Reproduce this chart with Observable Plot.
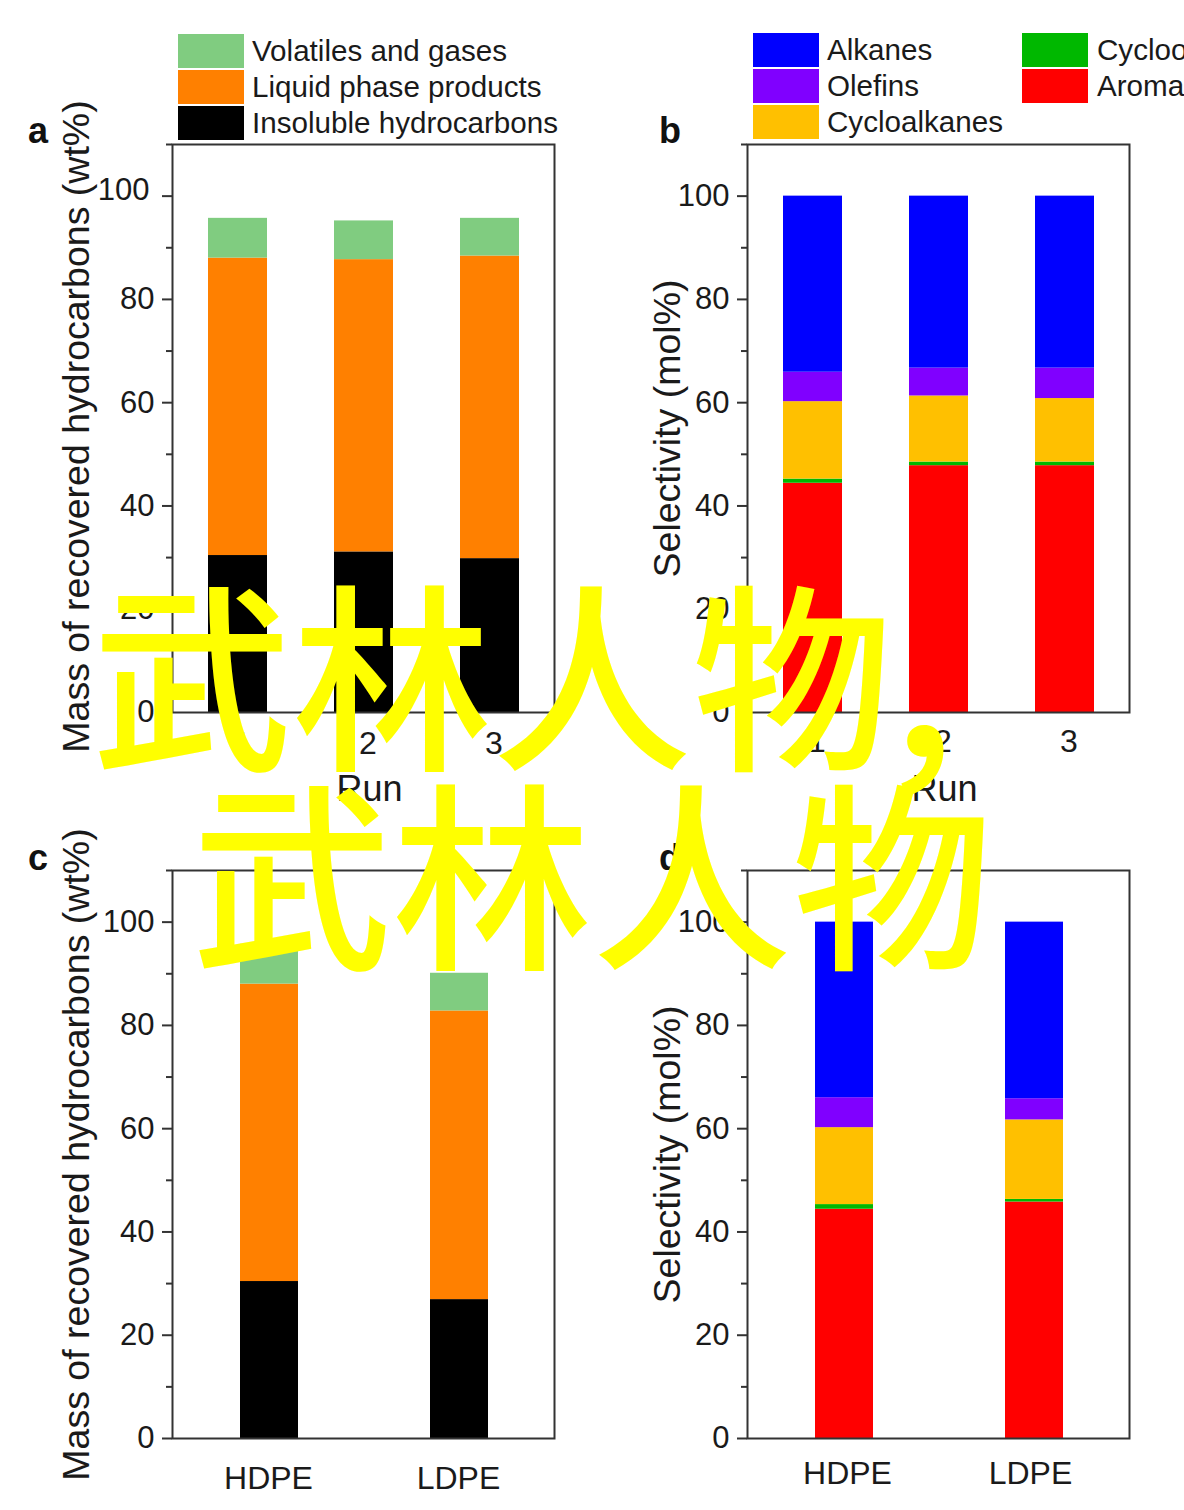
<!DOCTYPE html>
<html>
<head>
<meta charset="utf-8">
<script src="https://cdn.jsdelivr.net/npm/d3@7"></script>
<script src="https://cdn.jsdelivr.net/npm/@observablehq/plot@0.6"></script>
<style>
html,body{margin:0;padding:0;background:#fff}
#page{position:relative;width:1184px;height:1510px;overflow:hidden;font-family:"Liberation Sans",Arial,sans-serif;color:#1a1a1a}
.panel{position:absolute}
.panel svg{display:block;background:transparent}
.sw{position:absolute;width:66px;height:34px}
.lg{position:absolute;font-size:29.6px;line-height:34px;white-space:nowrap}
.letter{position:absolute;font-size:36px;font-weight:bold;line-height:36px;color:#111}
#wm{position:absolute;left:0;width:1184px;text-align:center;color:#ffff00;font-family:"Noto Sans CJK SC";font-size:200px;line-height:199px;top:569px;font-weight:500;white-space:pre}
#wm span{position:relative;left:-20px;top:17px}
</style>
</head>
<body>
<div id="page"></div>
<script>
// Categories
const runs = ["1", "2", "3"];
const plastics = ["HDPE", "LDPE"];

// Mass balance series (wt%), bottom to top
const massSeries = ["Insoluble hydrocarbons", "Liquid phase products", "Volatiles and gases"];
const massColors = ["#000000", "#ff8000", "#80cc80"];
const insolubleRuns = [30.4, 31.1, 29.8];
const liquidRuns = [57.6, 56.6, 58.6];
const volatilesRuns = [7.7, 7.5, 7.3];
const insolublePlastics = [30.4, 26.9];
const liquidPlastics = [57.6, 55.9];
const volatilesPlastics = [7.7, 7.3];

// Selectivity series (mol%), bottom to top
const selSeries = ["Aromatics", "Cycloolefins", "Cycloalkanes", "Olefins", "Alkanes"];
const selColors = ["#ff0000", "#00b800", "#ffc000", "#8000ff", "#0000ff"];
const aromaticsRuns = [44.4, 47.8, 47.8];
const cycloolefinsRuns = [0.8, 0.7, 0.7];
const cycloalkanesRuns = [15.0, 12.8, 12.3];
const olefinsRuns = [5.7, 5.4, 5.9];
const alkanesRuns = [34.1, 33.3, 33.3];
const aromaticsPlastics = [44.4, 45.8];
const cycloolefinsPlastics = [0.9, 0.5];
const cycloalkanesPlastics = [14.9, 15.4];
const olefinsPlastics = [5.8, 4.1];
const alkanesPlastics = [34.0, 34.2];

const majorTicks = [0, 20, 40, 60, 80, 100];
const minorTicks = [10, 30, 50, 70, 90, 110];
const massLabel = "Mass of recovered hydrocarbons (wt%)";
const selLabel = "Selectivity (mol%)";

function tidy(cats, names, columns) {
  return names.flatMap((s, i) => cats.map((c, j) => ({cat: c, series: s, value: columns[i][j]})));
}

const page = document.getElementById("page");

function panel(o) {
  const ml = 120, mr = 12, mt = 10, mb = 100;
  const fw = 382, fh = 568;
  const yAxisStyle = {fontSize: 31, label: null, fill: "#1a1a1a", tickFormat: d => d};
  const labelled = o.raise100 ? majorTicks.filter(t => t !== 100) : majorTicks;
  const chart = Plot.plot({
    width: ml + fw + mr, height: mt + fh + mb,
    marginLeft: ml, marginRight: mr, marginTop: mt, marginBottom: mb,
    style: {fontFamily: '"Liberation Sans", Arial, sans-serif', background: "transparent", color: "#1a1a1a", overflow: "visible"},
    x: {domain: o.cats, paddingInner: o.pi, paddingOuter: o.po, align: 0.51, label: null},
    y: {domain: [0, 110], label: null},
    color: {domain: o.names, range: o.colors},
    marks: [
      Plot.barY(o.data, {x: "cat", y: "value", fill: "series", order: null}),
      Plot.frame({stroke: "#333", strokeWidth: 2}),
      Plot.axisY({...yAxisStyle, ticks: labelled, tickSize: 10, tickPadding: 8, stroke: "#333", strokeWidth: 2}),
      o.raise100 ? Plot.axisY({...yAxisStyle, ticks: [100], tickSize: 10, tickPadding: 8, stroke: "#333", strokeWidth: 2, text: null}) : null,
      o.raise100 ? Plot.axisY({...yAxisStyle, ticks: [100], tickSize: 0, tickPadding: 23, dy: -6}) : null,
      Plot.axisY({ticks: minorTicks, tickSize: 6, text: null, label: null, stroke: "#333", strokeWidth: 2}),
      ...o.cats.map((c, i) => Plot.axisX({ticks: [c], tickSize: 0, tickPadding: o.xPad, fontSize: 32, label: null, fill: "#1a1a1a", dx: o.xDx[i]})),
      Plot.text([o.yLabel], {text: d => d, frameAnchor: "left", textAnchor: "middle", rotate: -90, dx: o.yDx, dy: o.yLabelDy || 0, fontSize: o.yFont, fill: "#1a1a1a"}),
      o.xLabel ? Plot.text([o.xLabel], {text: d => d, frameAnchor: "bottom", dy: 88, fontSize: 36, fill: "#1a1a1a", dx: o.xLabelDx || 0}) : null
    ]
  });
  const d = document.createElement("div");
  d.className = "panel";
  d.style.left = (o.x - ml) + "px";
  d.style.top = (o.y - mt) + "px";
  d.appendChild(chart);
  page.appendChild(d);
}

panel({x: 172, y: 144, cats: runs, pi: 0.533, po: 0.277, names: massSeries, colors: massColors, raise100: true,
  data: tidy(runs, massSeries, [insolubleRuns, liquidRuns, volatilesRuns]),
  yLabel: massLabel, yDx: -96, yFont: 37.5, yLabelDy: -2, xPad: 19, xDx: [4, 4, 4], xLabel: "Run", xLabelDx: 6});
panel({x: 747, y: 144, cats: runs, pi: 0.533, po: 0.277, names: selSeries, colors: selColors,
  data: tidy(runs, selSeries, [aromaticsRuns, cycloolefinsRuns, cycloalkanesRuns, olefinsRuns, alkanesRuns]),
  yLabel: selLabel, yDx: -80, yFont: 37.5, yLabelDy: 0, xPad: 17, xDx: [4, 4, 4], xLabel: "Run", xLabelDx: 6});
panel({x: 172, y: 870, cats: plastics, pi: 0.695, po: 0.352, names: massSeries, colors: massColors,
  data: tidy(plastics, massSeries, [insolublePlastics, liquidPlastics, volatilesPlastics]),
  yLabel: massLabel, yDx: -96, yFont: 37.5, yLabelDy: 0, xPad: 28, xDx: [-1, -1]});
panel({x: 747, y: 870, cats: plastics, pi: 0.695, po: 0.352, names: selSeries, colors: selColors,
  data: tidy(plastics, selSeries, [aromaticsPlastics, cycloolefinsPlastics, cycloalkanesPlastics, olefinsPlastics, alkanesPlastics]),
  yLabel: selLabel, yDx: -80, yFont: 37.5, yLabelDy: 0, xPad: 23, xDx: [3, -4]});

// Legends
const legendA = [["Volatiles and gases", "#80cc80", 34], ["Liquid phase products", "#ff8000", 70], ["Insoluble hydrocarbons", "#000000", 106]];
const legendB = [["Alkanes", "#0000ff", 33, 753, 74], ["Olefins", "#8000ff", 69, 753, 74], ["Cycloalkanes", "#ffc000", 105, 753, 74],
                 ["Cycloolefins", "#00b800", 33, 1022, 75], ["Aromatics", "#ff0000", 69, 1022, 75]];
function legend(name, col, top, left, off) {
  const s = document.createElement("div"); s.className = "sw";
  s.style.cssText = `left:${left}px;top:${top}px;background:${col}`;
  const t = document.createElement("div"); t.className = "lg"; t.textContent = name;
  t.style.left = (left + off) + "px"; t.style.top = top + "px";
  page.append(s, t);
}
legendA.forEach(([n, c, t]) => legend(n, c, t, 178, 74));
legendB.forEach(([n, c, t, l, off]) => legend(n, c, t, l, off));

// Panel letters
[["a", 28, 113], ["b", 659, 113], ["c", 28, 840], ["d", 659, 840]].forEach(([l, x, y]) => {
  const e = document.createElement("div"); e.className = "letter"; e.textContent = l;
  e.style.left = x + "px"; e.style.top = y + "px"; page.appendChild(e);
});

// Overlaid text
const wm = document.createElement("div");
wm.id = "wm";
wm.innerHTML = "武林人物<span>，</span>\n武林人物";
page.appendChild(wm);
</script>
</body>
</html>
